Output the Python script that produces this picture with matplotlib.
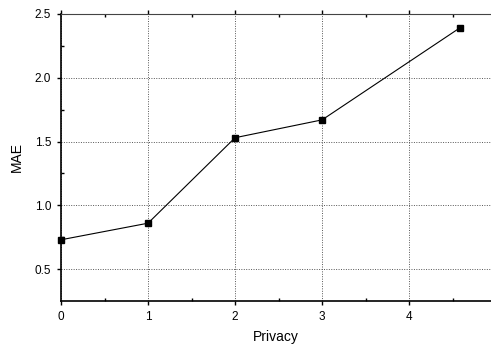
import numpy as np
import matplotlib.pyplot as plt

plt.rcParams['font.family'] = ['Liberation Sans', 'DejaVu Sans']

privacy = [0, 1, 2, 3, 4.58]
mae = [0.73, 0.86, 1.53, 1.67, 2.39]

fig = plt.figure(figsize=(4.91, 3.45), dpi=100)
ax = fig.add_axes([0.1242, 0.1275, 0.8758, 0.832])

ax.plot(privacy, mae, color='black', lw=0.8, marker='s', markersize=5,
        markerfacecolor='black', markeredgecolor='black', clip_on=False, zorder=3)

ax.set_xlim(0, 4.94)
ax.set_ylim(0.25, 2.5)
ax.set_xticks([0, 1, 2, 3, 4])
ax.set_xticks(np.arange(0.5, 4.9, 1.0), minor=True)
ax.set_yticks([0.5, 1.0, 1.5, 2.0, 2.5])
ax.set_yticks([0.75, 1.25, 1.75, 2.25], minor=True)
ax.set_yticklabels(['0.5', '1.0', '1.5', '2.0', '2.5'])

ax.grid(True, which='major', linestyle=(0, (1, 1.5)), color='#555555', lw=0.7)
ax.tick_params(which='major', direction='out', length=3, width=1, labelsize=8.5, pad=4)
ax.tick_params(which='minor', direction='in', length=2, width=1)
ax.tick_params(top=True, which='both')

for s in ['left', 'bottom']:
    ax.spines[s].set_linewidth(1.2)
ax.spines['top'].set_color('#444444')
ax.spines['right'].set_visible(False)

ax.set_xlabel('Privacy', fontsize=10, labelpad=5)
ax.set_ylabel('MAE', fontsize=10, labelpad=8)

fig.savefig('out.png', dpi=100)
